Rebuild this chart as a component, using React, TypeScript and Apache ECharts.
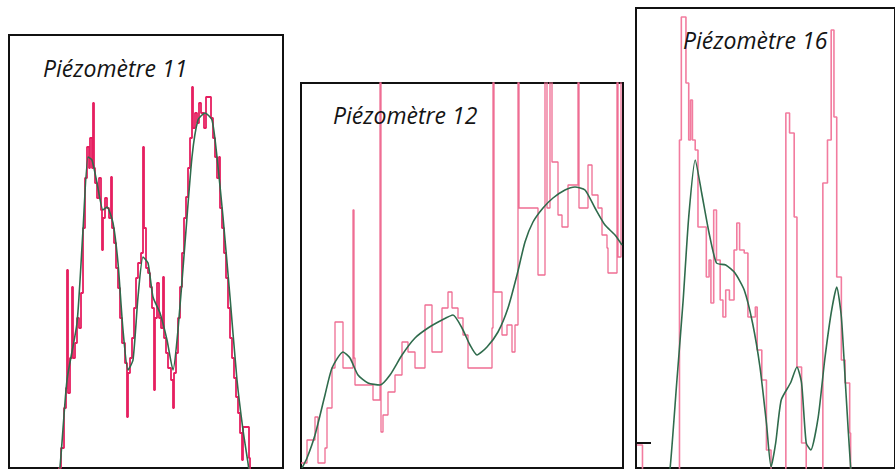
import { useEffect, useRef } from "react";
import * as echarts from "echarts";

const titles = ["Piézomètre 11", "Piézomètre 12", "Piézomètre 16"];

// Piézomètre 11 : [jour, niveau]
const p11Raw: [number, number][] = [
  [45, -10], [50, 0], [52, 20], [55, 60], [57, 80], [58, 198], [59, 75], [61, 110], [63, 181], [64, 110],
  [66, 125], [68, 150], [70, 140], [72, 175], [74, 240], [76, 290], [78, 321], [80, 300], [81, 330], [83, 300],
  [84, 365], [85, 300], [86, 285], [88, 270], [90, 290], [92, 258], [93, 218], [94, 250], [96, 270], [98, 260],
  [100, 250], [102, 291], [103, 240], [105, 225], [107, 200], [109, 180], [111, 150], [113, 125], [116, 105],
  [118, 51], [119, 95], [121, 110], [123, 130], [125, 160], [127, 190], [129, 205], [132, 215], [134, 321],
  [135, 240], [137, 200], [139, 195], [141, 181], [143, 160], [145, 78], [146, 150], [148, 185], [150, 150],
  [152, 140], [154, 191], [155, 130], [157, 115], [159, 100], [162, 88], [164, 60], [165, 95], [167, 115],
  [169, 150], [171, 181], [173, 215], [175, 250], [177, 271], [179, 300], [181, 330], [183, 381], [184, 340],
  [186, 355], [188, 345], [190, 365], [192, 355], [195, 340], [197, 371], [200, 371], [202, 350], [204, 330],
  [206, 311], [208, 290], [210, 311], [211, 260], [213, 240], [215, 215], [217, 190], [219, 160], [221, 130],
  [223, 110], [225, 90], [227, 71], [229, 55], [231, 35], [233, 8], [234, 41], [239, 41], [240, 10], [241, -10],
];
const p11Smooth: [number, number][] = [
  [48, -10], [51, 1], [58, 88], [68, 145], [74, 238], [79, 311], [83, 308], [88, 285], [94, 258], [98, 261],
  [104, 245], [109, 205], [114, 138], [119, 98], [124, 108], [129, 171], [134, 211], [139, 205], [144, 171],
  [151, 155], [158, 128], [164, 98], [169, 138], [176, 225], [183, 311], [189, 348], [196, 355], [203, 348],
  [208, 311], [214, 251], [221, 171], [228, 88], [234, 38], [239, 5], [241, -10],
];

// Piézomètre 12
const p12Raw: [number, number][] = [
  [0, 5], [6, 28], [11, 28], [14, 51], [17, 5], [24, 20], [26, 60], [31, 100], [34, 146], [42, 146],
  [42, 100], [50, 100], [52, 258], [53, 110], [54, 83], [71, 83], [72, 68], [79, 420], [80, 36], [82, 53],
  [87, 76], [94, 93], [101, 126], [107, 116], [114, 100], [121, 100], [124, 163], [131, 163], [131, 116],
  [141, 160], [147, 176], [151, 160], [157, 150], [162, 133], [167, 100], [187, 100], [191, 140], [192, 420],
  [193, 176], [197, 176], [201, 133], [206, 143], [211, 116], [214, 143], [217, 420], [218, 260], [232, 260],
  [237, 193], [241, 193], [244, 420], [246, 260], [249, 420], [251, 306], [254, 306], [257, 253], [261, 241],
  [267, 241], [267, 283], [277, 420], [278, 260], [287, 303], [291, 273], [297, 260], [301, 233], [306, 220],
  [307, 195], [314, 195], [316, 420], [317, 211], [319, 211], [320, 420], [330, 420],
];
const p12Smooth: [number, number][] = [
  [1, 0], [6, 10], [14, 33], [24, 73], [31, 100], [42, 116], [49, 110], [57, 93], [67, 85], [79, 83],
  [89, 93], [101, 113], [114, 130], [127, 140], [141, 148], [152, 153], [161, 140], [169, 123], [176, 113],
  [186, 121], [197, 136], [207, 160], [216, 193], [224, 226], [232, 246], [242, 260], [252, 270], [264, 278],
  [274, 281], [284, 278], [294, 260], [304, 243], [314, 233], [321, 223],
];

// Piézomètre 16
const p16Raw: [number, number][] = [
  [1, 23], [4, 23], [7, -10], [47, 328], [49, 451], [54, 385], [57, 328], [59, 368], [61, 328], [64, 318],
  [67, 241], [72, 241], [76, 191], [79, 208], [81, 165], [84, 258], [87, 208], [91, 168], [94, 151],
  [97, 178], [101, 168], [106, 218], [109, 245], [112, 218], [117, 215], [121, 151], [129, 161], [131, 118],
  [136, 88], [141, 18], [146, -10], [162, 355], [166, 335], [171, 251], [174, 101], [179, 25], [184, -10],
  [202, 285], [207, 328], [211, 438], [214, 351], [217, 191], [222, 108], [226, 85], [231, 35], [232, -10],
  [280, -10],
];
const p16Smooth: [number, number][] = [
  [33, -20], [37, 1], [44, 85], [51, 168], [57, 251], [64, 308], [71, 275], [79, 235], [87, 205], [97, 203],
  [107, 195], [117, 178], [126, 145], [134, 101], [141, 45], [146, 1], [151, 25], [157, 68], [167, 85],
  [174, 101], [179, 85], [184, 25], [189, 18], [197, 51], [204, 108], [211, 155], [217, 181], [222, 151],
  [227, 75], [232, 1], [235, -20],
];

const panels = [
  { raw: p11Raw, smooth: p11Smooth, rawColor: "#e61f60", rawWidth: 1.8, w: 274, h: 433 },
  { raw: p12Raw, smooth: p12Smooth, rawColor: "#ef6d93", rawWidth: 1.3, w: 322, h: 385 },
  { raw: p16Raw, smooth: p16Smooth, rawColor: "#f27c9f", rawWidth: 1.6, w: 280, h: 460 },
];

const gridPos = [
  { left: 9, top: 35 },
  { left: 301, top: 83 },
  { left: 636, top: 8 },
];
const titlePos = [
  { x: 43, y: 68 },
  { x: 333, y: 115 },
  { x: 683, y: 40 },
];

export default function App() {
  const ref = useRef<HTMLDivElement>(null);
  useEffect(() => {
    const chart = echarts.init(ref.current!, null, { renderer: "svg" });
    const series: any[] = [];
    panels.forEach((p, i) => {
      series.push({
        type: "line",
        xAxisIndex: i,
        yAxisIndex: i,
        data: p.raw,
        step: "end",
        symbol: "none",
        clip: true,
        lineStyle: { color: p.rawColor, width: p.rawWidth },
        z: 2,
      });
      series.push({
        type: "line",
        xAxisIndex: i,
        yAxisIndex: i,
        data: p.smooth,
        smooth: 0.2,
        symbol: "none",
        clip: true,
        lineStyle: { color: "#2f6b4c", width: 1.6 },
        z: 3,
      });
    });
    chart.setOption({
      animation: false,
      backgroundColor: "#fff",
      grid: panels.map((p, i) => ({
        left: gridPos[i].left,
        top: gridPos[i].top,
        width: p.w,
        height: p.h,
        show: true,
        borderColor: "#111",
        borderWidth: 2,
        backgroundColor: "transparent",
      })),
      xAxis: panels.map((p, i) => ({
        type: "value",
        gridIndex: i,
        min: 0,
        max: p.w,
        show: false,
      })),
      yAxis: panels.map((p, i) => ({
        type: "value",
        gridIndex: i,
        min: 0,
        max: p.h,
        show: false,
      })),
      series,
      graphic: [
        ...titles.map((t, i) => ({
          type: "text",
          x: titlePos[i].x,
          y: titlePos[i].y,
          z: 10,
          style: {
            text: t,
            font: 'italic 23px "Open Sans"',
            fill: "#141414",
            verticalAlign: "middle",
          },
        })),
        {
          type: "line",
          shape: { x1: 636, y1: 443, x2: 651, y2: 443 },
          style: { stroke: "#111", lineWidth: 2 },
          z: 10,
        },
      ],
    });
    return () => chart.dispose();
  }, []);
  return (
    <div
      ref={ref}
      style={{ position: "absolute", left: 0, top: 0, width: 895, height: 469 }}
    />
  );
}
